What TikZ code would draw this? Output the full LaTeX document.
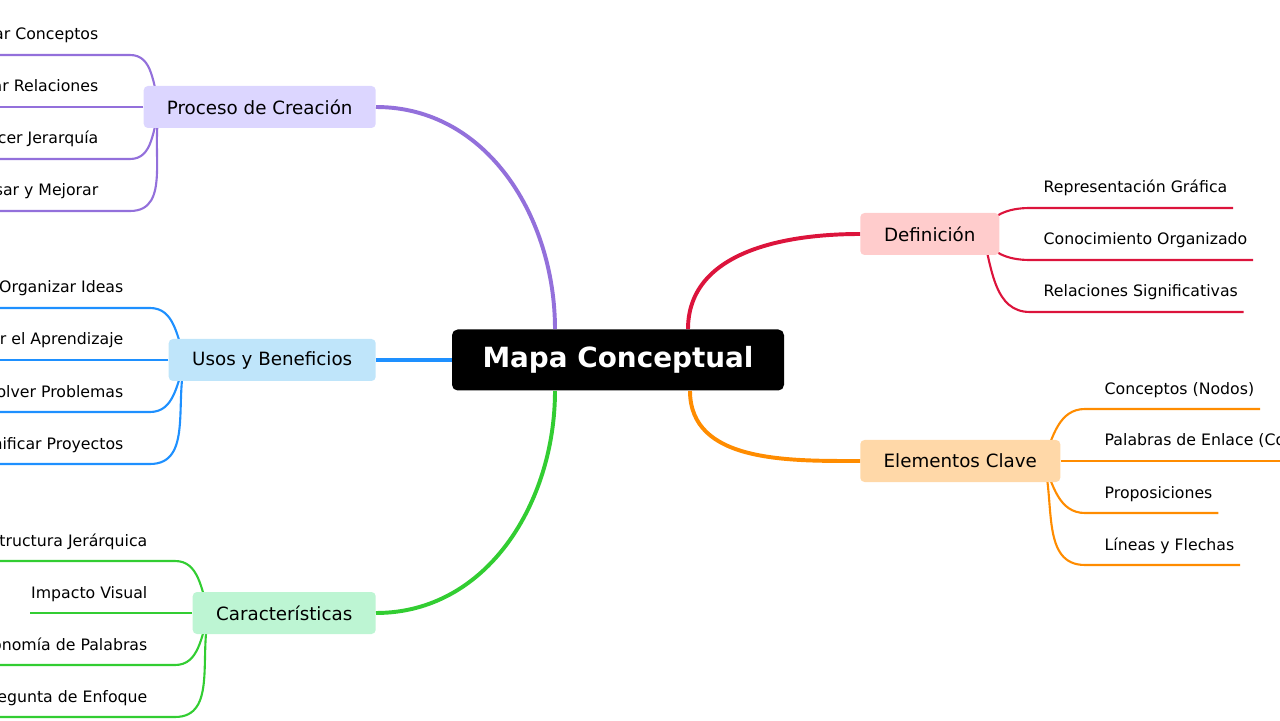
\documentclass[tikz,border=0pt]{standalone}
\usepackage{fontspec}
\setmainfont{DejaVu Sans}
\usetikzlibrary{calc,backgrounds}

\definecolor{cpurple}{HTML}{9370DB}
\definecolor{cblue}{HTML}{1E90FF}
\definecolor{cgreen}{HTML}{32CD32}
\definecolor{cred}{HTML}{DC143C}
\definecolor{corange}{HTML}{FF8C00}
\definecolor{fpurple}{HTML}{DCD6FF}
\definecolor{fblue}{HTML}{BFE5FA}
\definecolor{fgreen}{HTML}{BDF5D3}
\definecolor{fred}{HTML}{FFCCCC}
\definecolor{forange}{HTML}{FFD8A8}

\tikzset{
  branch/.style={rounded corners=3pt, minimum height=1.05cm, inner xsep=0pt, font=\fontsize{13}{15}\selectfont},
  leaf/.style={inner xsep=1pt, font=\fontsize{11.2}{13}\selectfont},
  main/.style={line width=2.8pt},
  sub/.style={line width=1.5pt}
}

\begin{document}
\begin{tikzpicture}

    \useasboundingbox (0,0) rectangle (32,18);

    %% Center
    \node[fill=black, text=white, rounded corners=4pt, minimum width=8.3cm, minimum height=1.525cm,
          font=\bfseries\fontsize{19.8}{22}\selectfont] (map) at (15.45,9) {Mapa Conceptual};

    %% Branches
    \node[branch, fill=fpurple, minimum width=5.8cm, anchor=east] (proc) at (9.4,15.325) {Proceso de Creación};
    \node[branch, fill=fblue, minimum width=5.175cm, anchor=east] (usos) at (9.4,9) {Usos y Beneficios};
    \node[branch, fill=fgreen, minimum width=4.575cm, anchor=east] (carac) at (9.4,2.675) {Características};
    \node[branch, fill=fred, minimum width=3.475cm, anchor=west] (defi) at (21.5,12.15) {Definición};
    \node[branch, fill=forange, minimum width=5cm, anchor=west] (elem) at (21.5,6.475) {Elementos Clave};

    % Main connectors
    \draw[main, cpurple] ([xshift=-1.575cm]map.north) to[out=90, in=0] (proc.east);
    \draw[main, cblue] (map.west) -- (usos.east);
    \draw[main, cgreen] ([xshift=-1.575cm]map.south) to[out=-90, in=0] (carac.east);
    \draw[main, cred] ([xshift=1.75cm]map.north) to[out=90, in=180] (defi.west);
    \draw[main, corange] ([xshift=1.8cm]map.south) to[out=-90, in=180] (elem.west);

    %% Proceso de Creacion leaves
    \coordinate (p1) at (3.25,16.625);
    \coordinate (p2) at (3.25,15.325);
    \coordinate (p3) at (3.25,14.025);
    \coordinate (p4) at (3.25,12.725);
    \node[leaf, anchor=base east] (tp1) at ($(p1)+(-0.75,0.375)$) {Identificar Conceptos};
    \node[leaf, anchor=base east] (tp2) at ($(p2)+(-0.75,0.375)$) {Identificar Relaciones};
    \node[leaf, anchor=base east] (tp3) at ($(p3)+(-0.75,0.375)$) {Establecer Jerarquía};
    \node[leaf, anchor=base east] (tp4) at ($(p4)+(-0.75,0.375)$) {Revisar y Mejorar};

    %% Usos y Beneficios leaves
    \coordinate (u1) at (3.75,10.3);
    \coordinate (u2) at (3.75,9);
    \coordinate (u3) at (3.75,7.7);
    \coordinate (u4) at (3.75,6.4);
    \node[leaf, anchor=base east] (tu1) at ($(u1)+(-0.625,0.375)$) {Organizar Ideas};
    \node[leaf, anchor=base east] (tu2) at ($(u2)+(-0.625,0.375)$) {Facilitar el Aprendizaje};
    \node[leaf, anchor=base east] (tu3) at ($(u3)+(-0.625,0.375)$) {Resolver Problemas};
    \node[leaf, anchor=base east] (tu4) at ($(u4)+(-0.625,0.375)$) {Planificar Proyectos};

    %% Caracteristicas leaves
    \coordinate (c1) at (4.375,3.975);
    \coordinate (c2) at (4.375,2.675);
    \coordinate (c3) at (4.375,1.375);
    \coordinate (c4) at (4.375,0.075);
    \node[leaf, anchor=base east] (tc1) at ($(c1)+(-0.65,0.375)$) {Estructura Jerárquica};
    \node[leaf, anchor=base east] (tc2) at ($(c2)+(-0.65,0.375)$) {Impacto Visual};
    \node[leaf, anchor=base east] (tc3) at ($(c3)+(-0.65,0.375)$) {Economía de Palabras};
    \node[leaf, anchor=base east] (tc4) at ($(c4)+(-0.65,0.375)$) {Pregunta de Enfoque};

    %% Definicion leaves
    \coordinate (d1) at (25.75,12.8);
    \coordinate (d2) at (25.75,11.5);
    \coordinate (d3) at (25.75,10.2);
    \node[leaf, anchor=base west] (td1) at ($(d1)+(0.3,0.375)$) {Representación Gráfica};
    \node[leaf, anchor=base west] (td2) at ($(d2)+(0.3,0.375)$) {Conocimiento Organizado};
    \node[leaf, anchor=base west] (td3) at ($(d3)+(0.3,0.375)$) {Relaciones Significativas};

    %% Elementos Clave leaves
    \coordinate (e1) at (27.125,7.775);
    \coordinate (e2) at (27.125,6.475);
    \coordinate (e3) at (27.125,5.175);
    \coordinate (e4) at (27.125,3.875);
    \node[leaf, anchor=base west] (te1) at ($(e1)+(0.45,0.375)$) {Conceptos (Nodos)};
    \node[leaf, anchor=base west] (te2) at ($(e2)+(0.45,0.375)$) {Palabras de Enlace (Conectores)};
    \node[leaf, anchor=base west] (te3) at ($(e3)+(0.45,0.375)$) {Proposiciones};
    \node[leaf, anchor=base west] (te4) at ($(e4)+(0.45,0.375)$) {Líneas y Flechas};

    % Leaf connectors, behind the branch boxes
    \begin{scope}[on background layer]
    \draw[sub, cpurple] ([xshift=12pt]proc.west) to[out=110, in=0] (p1) -- (p1 -| tp1.west);
    \draw[sub, cpurple] (proc.west) -- (p2) -- (p2 -| tp2.west);
    \draw[sub, cpurple] ([xshift=12pt]proc.west) to[out=-110, in=0] (p3) -- (p3 -| tp3.west);
    \draw[sub, cpurple] ([xshift=12pt]proc.west) to[out=-105, in=0] (p4) -- (p4 -| tp4.west);

    \draw[sub, cblue] ([xshift=12pt]usos.west) to[out=110, in=0] (u1) -- (u1 -| tu1.west);
    \draw[sub, cblue] (usos.west) -- (u2) -- (u2 -| tu2.west);
    \draw[sub, cblue] ([xshift=12pt]usos.west) to[out=-110, in=0] (u3) -- (u3 -| tu3.west);
    \draw[sub, cblue] ([xshift=12pt]usos.west) to[out=-105, in=0] (u4) -- (u4 -| tu4.west);

    \draw[sub, cgreen] ([xshift=12pt]carac.west) to[out=110, in=0] (c1) -- (c1 -| tc1.west);
    \draw[sub, cgreen] (carac.west) -- (c2) -- (c2 -| tc2.west);
    \draw[sub, cgreen] ([xshift=12pt]carac.west) to[out=-110, in=0] (c3) -- (c3 -| tc3.west);
    \draw[sub, cgreen] ([xshift=12pt]carac.west) to[out=-105, in=0] (c4) -- (c4 -| tc4.west);

    \draw[sub, cred] ([xshift=-12pt]defi.east) to[out=70, in=180] (d1) -- ([xshift=3pt]d1 -| td1.east);
    \draw[sub, cred] ([xshift=-12pt]defi.east) to[out=-70, in=180] (d2) -- ([xshift=3pt]d2 -| td2.east);
    \draw[sub, cred] ([xshift=-12pt]defi.east) to[out=-75, in=180] (d3) -- ([xshift=3pt]d3 -| td3.east);

    \draw[sub, corange] ([xshift=-12pt]elem.east) to[out=70, in=180] (e1) -- ([xshift=3pt]e1 -| te1.east);
    \draw[sub, corange] (elem.east) -- (e2) -- (e2 -| te2.east);
    \draw[sub, corange] ([xshift=-12pt]elem.east) to[out=-70, in=180] (e3) -- ([xshift=3pt]e3 -| te3.east);
    \draw[sub, corange] ([xshift=-12pt]elem.east) to[out=-75, in=180] (e4) -- ([xshift=3pt]e4 -| te4.east);
    \end{scope}

\end{tikzpicture}
\end{document}
